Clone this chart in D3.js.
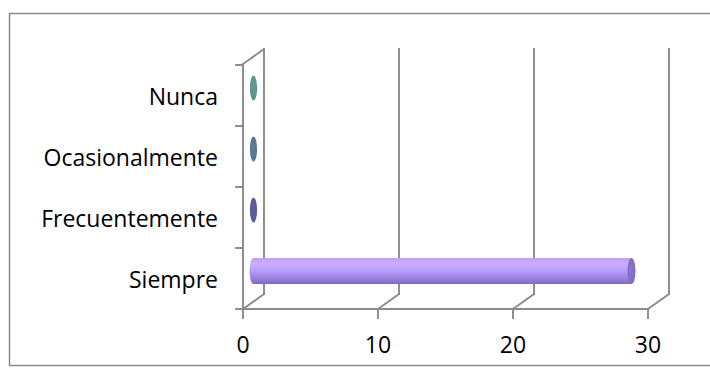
<!DOCTYPE html>
<html>
<head>
<meta charset="utf-8">
<script src="https://cdn.jsdelivr.net/npm/d3@7"></script>
<style>
  html, body { margin: 0; padding: 0; background: #fff; }
  svg { display: block; }
  text { font-family: "Open Sans", "Liberation Sans", sans-serif; }
</style>
</head>
<body>
<script>
// Survey answers, listed top to bottom as they appear on the category axis
const categories = ["Nunca", "Ocasionalmente", "Frecuentemente", "Siempre"];
const values = [0, 0, 0, 28];
const seriesColors = ["#5f9d93", "#5b7f9b", "#5b5f9f", "#a78ef0"];
const xTicks = [0, 10, 20, 30];

const W = 710, H = 376;
const gridColor = "#8a8a8a";

const svg = d3.select("body").append("svg")
  .attr("width", W).attr("height", H);

// Outer chart frame
svg.append("rect")
  .attr("x", 9.5).attr("y", 13.5)
  .attr("width", 712).attr("height", 352)
  .attr("fill", "#fff")
  .attr("stroke", gridColor).attr("stroke-width", 1.5);

// Front plane scales; the 3D depth is a fixed oblique offset
const x = d3.scaleLinear().domain([0, 30]).range([243, 648]);
const y = d3.scaleBand().domain(categories).range([65, 309]).padding(0);
const depth = { dx: 21, dy: -15 };
const yTop = y.range()[0], yBot = y.range()[1];

const frame = svg.append("g")
  .attr("fill", "none")
  .attr("stroke", gridColor)
  .attr("stroke-width", 1.9)
  .attr("stroke-linecap", "square");

// Left wall outline
frame.append("line")
  .attr("x1", x(0)).attr("y1", yTop - 1).attr("x2", x(0)).attr("y2", yBot);
frame.append("line")
  .attr("x1", x(0)).attr("y1", yTop - 1)
  .attr("x2", x(0) + depth.dx).attr("y2", yTop - 1 + depth.dy);

// Back wall gridlines (including the value-0 edge)
frame.selectAll("line.grid").data(xTicks).join("line")
  .attr("class", "grid")
  .attr("x1", d => x(d) + depth.dx).attr("x2", d => x(d) + depth.dx)
  .attr("y1", yTop - 1 + depth.dy).attr("y2", yBot + depth.dy);

// Floor gridlines running from the front axis to the back wall
frame.selectAll("line.floor").data(xTicks).join("line")
  .attr("class", "floor")
  .attr("x1", d => x(d)).attr("y1", yBot)
  .attr("x2", d => x(d) + depth.dx).attr("y2", yBot + depth.dy);

// Front value axis line and its tick marks
frame.append("line")
  .attr("x1", x(0)).attr("y1", yBot).attr("x2", x(30)).attr("y2", yBot);
frame.selectAll("line.xtick").data(xTicks).join("line")
  .attr("class", "xtick")
  .attr("x1", d => x(d)).attr("x2", d => x(d))
  .attr("y1", yBot).attr("y2", yBot + 9);

// Category axis tick marks at band boundaries
const catBounds = categories.map(c => y(c)).concat([yBot]);
frame.selectAll("line.ytick").data(catBounds).join("line")
  .attr("class", "ytick")
  .attr("x1", x(0) - 7).attr("x2", x(0))
  .attr("y1", d => d).attr("y2", d => d);

// Value axis labels
svg.append("g").selectAll("text").data(xTicks).join("text")
  .attr("x", d => x(d)).attr("y", 353)
  .attr("text-anchor", "middle")
  .attr("font-size", 23)
  .attr("fill", "#000")
  .text(d => d);

// Category labels
svg.append("g").selectAll("text").data(categories).join("text")
  .attr("x", 218)
  .attr("y", d => y(d) + y.bandwidth() / 2 + 9)
  .attr("text-anchor", "end")
  .attr("font-size", 23)
  .attr("fill", "#000")
  .text(d => d);

// Gradients for the cylinders
const defs = svg.append("defs");
seriesColors.forEach((col, i) => {
  const c = d3.color(col);
  const g = defs.append("linearGradient")
    .attr("id", "body" + i).attr("x1", 0).attr("y1", 0).attr("x2", 0).attr("y2", 1);
  [[0, c.brighter(0.35)], [0.22, c.brighter(0.55)], [0.5, c.brighter(0.25)],
   [0.78, c.darker(0.25)], [1, c.darker(0.75)]].forEach(([o, s]) =>
    g.append("stop").attr("offset", o).attr("stop-color", s));
  const cap = defs.append("radialGradient")
    .attr("id", "cap" + i).attr("cx", 0.45).attr("cy", 0.45).attr("r", 0.6);
  cap.append("stop").attr("offset", 0).attr("stop-color", i === 3 ? c.darker(0.5) : c);
  cap.append("stop").attr("offset", 1).attr("stop-color", i === 3 ? c.darker(0.8) : c.darker(0.2));
});

// Cylinders sit half-way into the depth of the plot
const ry = 13, rx = 4;
const bars = svg.append("g");
categories.forEach((cat, i) => {
  const v = values[i];
  const cx0 = x(0) + depth.dx / 2;
  const cx1 = x(v) + depth.dx / 2;
  const cy = y(cat) + y.bandwidth() / 2 + depth.dy / 2;
  if (v > 0) {
    bars.append("path")
      .attr("d", `M${cx1},${cy - ry} L${cx0},${cy - ry} A${rx},${ry} 0 0 0 ${cx0},${cy + ry} L${cx1},${cy + ry} Z`)
      .attr("fill", `url(#body${i})`);
    bars.append("ellipse")
      .attr("cx", cx1).attr("cy", cy).attr("rx", rx).attr("ry", ry)
      .attr("fill", `url(#cap${i})`);
  } else {
    bars.append("ellipse")
      .attr("cx", cx0).attr("cy", cy).attr("rx", 3.6).attr("ry", ry - 0.5)
      .attr("fill", `url(#cap${i})`);
  }
});
</script>
</body>
</html>
